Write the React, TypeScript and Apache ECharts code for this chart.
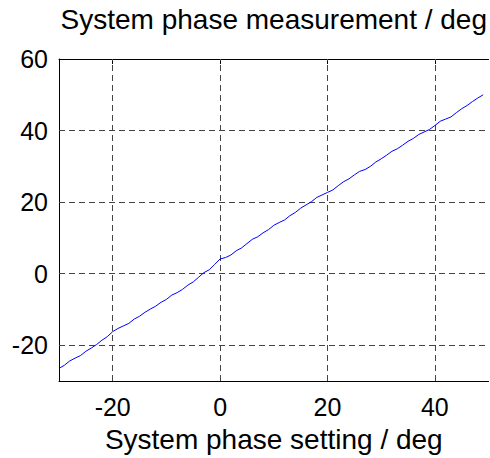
import React, { useEffect, useRef } from "react";
import * as echarts from "echarts";

// Phase setting (deg) and the measured system phase (deg)
const phaseSetting: number[] = [
  -30, -29, -28, -27, -26, -25, -24, -23, -22, -21,
  -20, -19, -18, -17, -16, -15, -14, -13, -12, -11,
  -10, -9, -8, -7, -6, -5, -4, -3, -2, -1,
  0, 1, 2, 3, 4, 5, 6, 7, 8, 9,
  10, 11, 12, 13, 14, 15, 16, 17, 18, 19,
  20, 21, 22, 23, 24, 25, 26, 27, 28, 29,
  30, 31, 32, 33, 34, 35, 36, 37, 38, 39,
  40, 41, 42, 43, 44, 45, 46, 47, 48, 49,
];

const phaseMeasured: number[] = [
  -26.5, -25.6, -24.4, -23.6, -22.9, -21.7, -20.8, -19.8, -18.6, -17.6,
  -16.2, -15.3, -14.6, -13.9, -12.7, -11.9, -10.8, -9.9, -9.1, -8.0,
  -7.2, -6.0, -5.3, -4.4, -3.2, -2.3, -1.0, 0.3, 1.1, 2.6,
  4.1, 4.5, 5.2, 6.4, 7.2, 8.4, 9.6, 10.3, 11.4, 12.3,
  13.5, 14.3, 15.0, 16.2, 17.1, 18.3, 19.2, 20.1, 21.3, 22.0,
  22.7, 23.4, 24.6, 25.7, 26.5, 27.6, 28.6, 29.1, 30.0, 31.2,
  32.1, 33.1, 34.2, 34.9, 35.9, 37.0, 37.8, 38.9, 39.6, 40.3,
  41.4, 42.6, 43.2, 43.8, 45.0, 46.1, 47.0, 48.1, 49.1, 50.0,
];

const xRange = { min: -30, max: 50 };
const yRange = { min: -30, max: 60 };
const xTicks: number[] = [-20, 0, 20, 40];
const yTicks: number[] = [-20, 0, 20, 40, 60];

const xTitle = "System phase setting / deg";
const yTitle = "System phase measurement / deg";

const FONT = "'Liberation Sans', Arial, Helvetica, sans-serif";

export default function App() {
  const ref = useRef<HTMLDivElement>(null);

  useEffect(() => {
    if (!ref.current) return;
    const chart = echarts.init(ref.current, undefined, { renderer: "svg" });

    const gridLineStyle = { color: "#444", width: 1, type: [6, 4] as number[] };

    const xCommon = {
      type: "value" as const,
      min: xRange.min,
      max: xRange.max,
      interval: 10,
      axisLine: { show: true, onZero: false, lineStyle: { color: "#000", width: 1 } },
      axisTick: {
        show: true,
        inside: true,
        length: 5,
        lineStyle: { color: "#000" },
        customValues: xTicks,
      },
      splitLine: { show: false },
    };

    chart.setOption({
      animation: false,
      backgroundColor: "#fff",
      grid: { left: 59, right: 1, top: 52, bottom: 76, containLabel: false },
      xAxis: [
        {
          ...xCommon,
          position: "bottom",
          axisLabel: {
            show: true,
            customValues: xTicks,
            margin: 13,
            color: "#000",
            fontSize: 25,
            fontFamily: FONT,
          },
          name: xTitle,
          nameLocation: "middle",
          nameGap: 44,
          nameTextStyle: { color: "#000", fontSize: 28, fontFamily: FONT },
        },
        {
          ...xCommon,
          position: "top",
          axisLabel: { show: false },
          name: yTitle,
          nameLocation: "middle",
          nameGap: 26,
          nameTextStyle: { color: "#000", fontSize: 28, fontFamily: FONT },
        },
      ],
      yAxis: {
        type: "value",
        min: yRange.min,
        max: yRange.max,
        interval: 10,
        axisLine: { show: true, onZero: false, lineStyle: { color: "#000", width: 1 } },
        axisTick: {
          show: true,
          inside: true,
          length: 5,
          lineStyle: { color: "#000" },
          customValues: yTicks,
        },
        axisLabel: {
          show: true,
          customValues: yTicks,
          margin: 11,
          color: "#000",
          fontSize: 25,
          fontFamily: FONT,
        },
        splitLine: { show: false },
      },
      series: [
        {
          type: "line",
          data: phaseSetting.map((x, i) => [x, phaseMeasured[i]]),
          showSymbol: false,
          symbol: "none",
          lineStyle: { color: "#0000ff", width: 1 },
          z: 5,
        },
        // dashed grid lines at the labelled ticks
        {
          type: "line",
          data: [],
          markLine: {
            silent: true,
            symbol: "none",
            label: { show: false },
            lineStyle: gridLineStyle,
            data: [
              ...xTicks.map((v) => ({ xAxis: v })),
              ...yTicks.filter((v) => v !== yRange.max).map((v) => ({ yAxis: v })),
            ],
          },
          z: 2,
        },
      ],
    });

    return () => chart.dispose();
  }, []);

  return (
    <div
      ref={ref}
      style={{ position: "fixed", left: 0, top: 0, width: 490, height: 458, background: "#fff" }}
    />
  );
}
